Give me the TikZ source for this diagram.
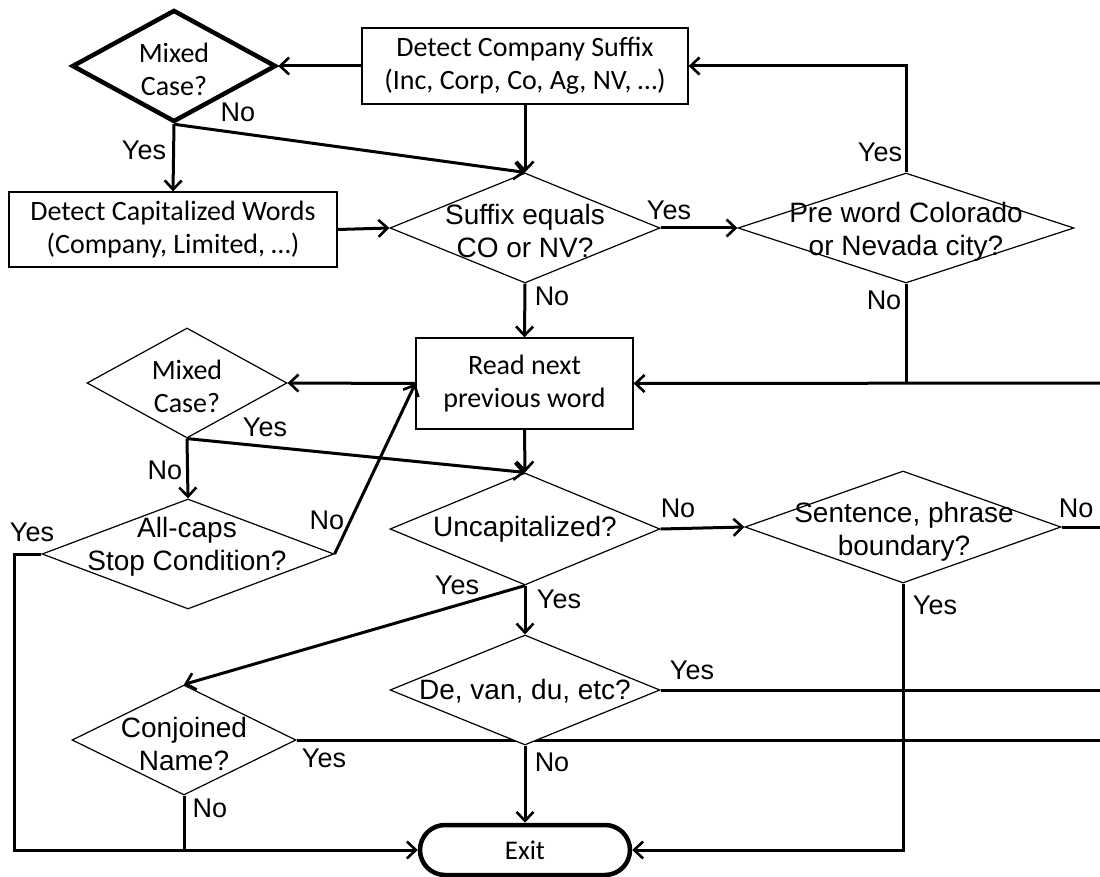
\documentclass[tikz,border=0pt]{standalone}
\usepackage{fontspec}
\setmainfont{Liberation Sans}
\newfontfamily\carl{Carlito}
\usetikzlibrary{arrows.meta,shapes.geometric,shapes.misc,backgrounds}
\begin{document}
\begin{tikzpicture}[x=1pt,y=-1pt,
 conn/.style={line width=3pt},
 arr/.style={conn,-{Straight Barb[length=9pt,width=17pt,line width=2.6pt]}},
 dia/.style={diamond,draw,fill=white,line width=1.2pt,inner sep=0pt},
 bx/.style={rectangle,draw,fill=white,line width=1.3pt,inner sep=0pt,align=center,font=\carl\fontsize{28}{33}\selectfont},
 dtxt/.style={inner sep=0pt,align=center,font=\fontsize{28}{33}\selectfont},
 ctxt/.style={inner sep=0pt,align=center,font=\carl\fontsize{28}{33}\selectfont},
 lbl/.style={inner sep=0pt,font=\fontsize{27}{30}\selectfont},
]
\useasboundingbox (0,0) rectangle (1100,877);

% shapes
\node[dia,line width=4.5pt,minimum width=204,minimum height=112] (m1) at (174,66) {};
\node[bx,minimum width=326,minimum height=76] (cs) at (525,66) {Detect Company Suffix\\(Inc, Corp, Co, Ag, NV, …)};
\node[bx,minimum width=328,minimum height=75] (cw) at (173,229.5) {Detect Capitalized Words\\(Company, Limited, …)};
\node[dia,minimum width=270,minimum height=110] (se) at (525,228) {};
\node[dia,minimum width=336,minimum height=110] (pw) at (906,228) {};
\node[bx,minimum width=217,minimum height=91] (rn) at (524.5,383.5) {Read next\\previous word};
\node[dia,minimum width=200,minimum height=110] (m2) at (187,383) {};
\node[dia,minimum width=292,minimum height=110] (ac) at (188,554) {};
\node[dia,minimum width=270,minimum height=112] (uc) at (525,529) {};
\node[dia,minimum width=316,minimum height=112] (sb) at (903,527) {};
\node[dia,minimum width=270,minimum height=110] (dv) at (525,690) {};
\node[dia,minimum width=224,minimum height=110] (cj) at (184,740) {};
\node[rounded rectangle,draw,fill=white,line width=4.5pt,minimum width=210,minimum height=50,inner sep=0pt,font=\carl\fontsize{27}{30}\selectfont] (ex) at (525,850) {Exit};

% text in diamonds
\node[ctxt] (t1) at (174,69) {Mixed\\Case?};
\node[dtxt] (t2) at (525,231) {Suffix equals\\CO or NV?};
\node[dtxt] (t3) at (906,232) {Pre word Colorado\\or Nevada city?};
\node[ctxt] (t4) at (187,386) {Mixed\\Case?};
\node[dtxt] (t5) at (187,547) {All-caps\\Stop Condition?};
\node[dtxt] (t6) at (525,529) {Uncapitalized?};
\node[dtxt] (t7) at (904,532) {Sentence, phrase\\boundary?};
\node[dtxt] (t8) at (525,691) {De, van, du, etc?};
\node[dtxt] (t9) at (184,744) {Conjoined\\Name?};

% free ends
\coordinate (r1) at (1100,383);
\coordinate (j1) at (pw.south |- r1);
\coordinate (r2) at (1100,527);
\coordinate (r3) at (1100,690);
\coordinate (r4) at (1100,740);
\coordinate (cl1) at (14,554);
\coordinate (cl2) at (14,850);

% connectors
\draw[arr] (cs.west) -- (m1.east);
\draw[arr] (cs.south) -- (se.north);
\draw[arr] (m1.south) -- (cw.north);
\draw[arr] (m1.south) -- (se.north);
\draw[arr] (cw.east) -- (se.west);
\draw[arr] (se.east) -- (pw.west);
\draw[arr] (pw.north) |- (cs.east);
\draw[conn] (pw.south) -- (j1);
\draw[arr] (r1) -- (rn.east);
\draw[arr] (se.south) -- (rn.north);
\draw[arr] (rn.west) -- (m2.east);
\draw[arr] (m2.south) -- (uc.north);
\draw[arr] (m2.south) -- (ac.north);
\draw[arr] (ac.east) -- (rn.west);
\draw[arr] (ac.west) -- (cl1) -- (cl2) -- (ex.west);
\draw[arr] (rn.south) -- (uc.north);
\draw[arr] (uc.east) -- (sb.west);
\draw[conn] (sb.east) -- (r2);
\draw[arr] (uc.south) -- (cj.north);
\draw[arr] (uc.south) -- (dv.north);
\draw[conn] (dv.east) -- (r3);
\begin{pgfonlayer}{background}
\fill[white] (0,0) rectangle (1100,877);
\draw[conn] (cj.east) -- (r4);
\end{pgfonlayer}
\draw[conn] (cj.south) -- (cj.south |- ex.west);
\draw[arr] (dv.south) -- (ex.north);
\draw[arr] (sb.south) |- (ex.east);

% labels
\node[lbl] (l1) at (238,112) {No};
\node[lbl] (l2) at (144,150) {Yes};
\node[lbl] (l3) at (669,210) {Yes};
\node[lbl] (l4) at (880,152) {Yes};
\node[lbl] (l5) at (884,300) {No};
\node[lbl] (l6) at (552,296) {No};
\node[lbl] (l7) at (265,427) {Yes};
\node[lbl] (l8) at (165,470) {No};
\node[lbl] (l9) at (327,520) {No};
\node[lbl] (l10) at (32,532) {Yes};
\node[lbl] (l11) at (457,585) {Yes};
\node[lbl] (l12) at (559,599) {Yes};
\node[lbl] (l13) at (678,508) {No};
\node[lbl] (l14) at (1076,508) {No};
\node[lbl] (l15) at (935,605) {Yes};
\node[lbl] (l16) at (692,670) {Yes};
\node[lbl] (l17) at (324,758) {Yes};
\node[lbl] (l18) at (210,808) {No};
\node[lbl] (l19) at (552,762) {No};
\end{tikzpicture}
\end{document}
